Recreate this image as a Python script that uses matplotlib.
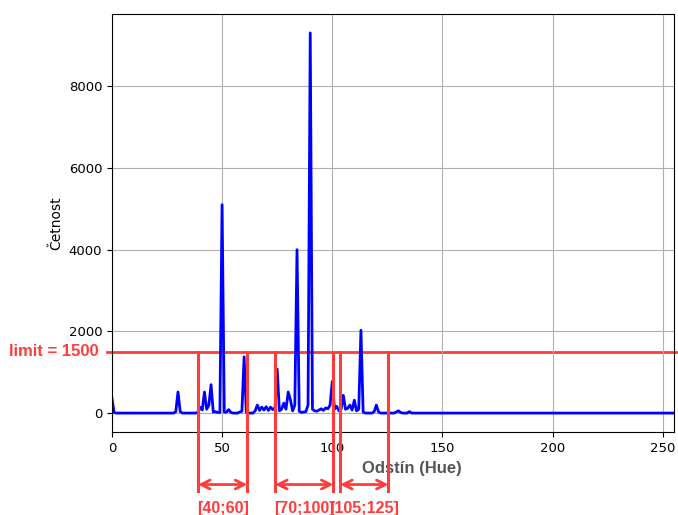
"""Hue histogram with a count limit and the selected hue ranges."""
import matplotlib

matplotlib.use("Agg")
import matplotlib.pyplot as plt
from matplotlib.transforms import blended_transform_factory

# histogram counts for hue 0..255
counts = [5] * 256
peaks = {
    0: 380, 1: 20, 29: 40, 30: 520, 31: 40,
    39: 20, 40: 150, 41: 80, 42: 520, 43: 100, 44: 200, 45: 700, 46: 30,
    47: 40, 48: 20, 49: 20, 50: 5100, 51: 30, 52: 30, 53: 90, 54: 20,
    58: 30, 59: 50, 60: 1380, 61: 20,
    65: 60, 66: 200, 67: 70, 68: 150, 69: 80, 70: 160, 71: 70, 72: 150,
    73: 90, 74: 130, 75: 1080, 76: 60, 77: 100, 78: 250, 79: 100, 80: 520,
    81: 330, 82: 60, 83: 200, 84: 4000, 85: 50, 86: 20, 87: 30, 88: 40,
    89: 200, 90: 9300, 91: 100, 92: 60, 93: 50, 94: 80, 95: 110, 96: 70,
    97: 130, 98: 110, 99: 200, 100: 780, 101: 100, 102: 170, 103: 60,
    104: 100, 105: 440, 106: 100, 107: 120, 108: 200, 109: 80, 110: 320,
    111: 60, 112: 100, 113: 2030, 114: 30, 119: 40, 120: 200, 121: 30,
    129: 30, 130: 60, 131: 20, 135: 40,
}
for hue, n in peaks.items():
    counts[hue] = n

limit = 1500
ranges = [(40, 60), (70, 100), (105, 125)]
# where the range markers were drawn (hue units)
range_lines = [(39.1, 61.4), (74.1, 100.5), (103.6, 125.5)]

RED = "#ff3b3b"

fig = plt.figure(figsize=(6.78, 5.15), dpi=100)
ax = fig.add_axes([0.165, 0.161, 0.829, 0.812])

ax.plot(range(256), counts, color="blue", lw=2, zorder=2)
ax.set_xlim(0, 255)
ax.set_ylim(ax.get_ylim())  # freeze before the annotations below the axis
ax.grid(True)
ax.tick_params(labelsize=9.5)
ax.set_ylabel("Četnost", fontsize=10)
ax.set_xlabel("Odstín (Hue)", fontsize=12, fontweight="bold", color="#555555",
              family="Liberation Sans")
ax.xaxis.set_label_coords(0.534, -0.068)

# limit line, from just left of the axis to the figure edge
trans = blended_transform_factory(fig.transFigure, ax.transData)
ax.plot([107 / 678, 1.0], [limit, limit], transform=trans, color=RED, lw=2,
        clip_on=False, zorder=1.5)
ax.text(0.013, limit, f"limit = {limit}", transform=trans, color=RED,
        fontsize=12, fontweight="bold", family="Liberation Sans",
        ha="left", va="center", clip_on=False)

# fig pixel rows of the bracket parts, converted to data units
y_bottom = -1890
y_arrow = -1742
y_text = -2330
for (lo, hi), (x0, x1) in zip(ranges, range_lines):
    for x in (x0, x1):
        ax.plot([x, x], [limit, y_bottom], color=RED, lw=2.2, clip_on=False, zorder=3)
    ax.annotate("", xy=(x1, y_arrow), xytext=(x0, y_arrow),
                arrowprops=dict(arrowstyle="<->", color=RED, lw=2,
                                shrinkA=0, shrinkB=0, mutation_scale=16),
                annotation_clip=False)
    ax.text((x0 + x1) / 2, y_text, f"[{lo};{hi}]", color=RED, fontsize=11.5,
            fontweight="bold", family="Liberation Sans", ha="center", va="center",
            clip_on=False)

fig.savefig("out.png", dpi=100)
